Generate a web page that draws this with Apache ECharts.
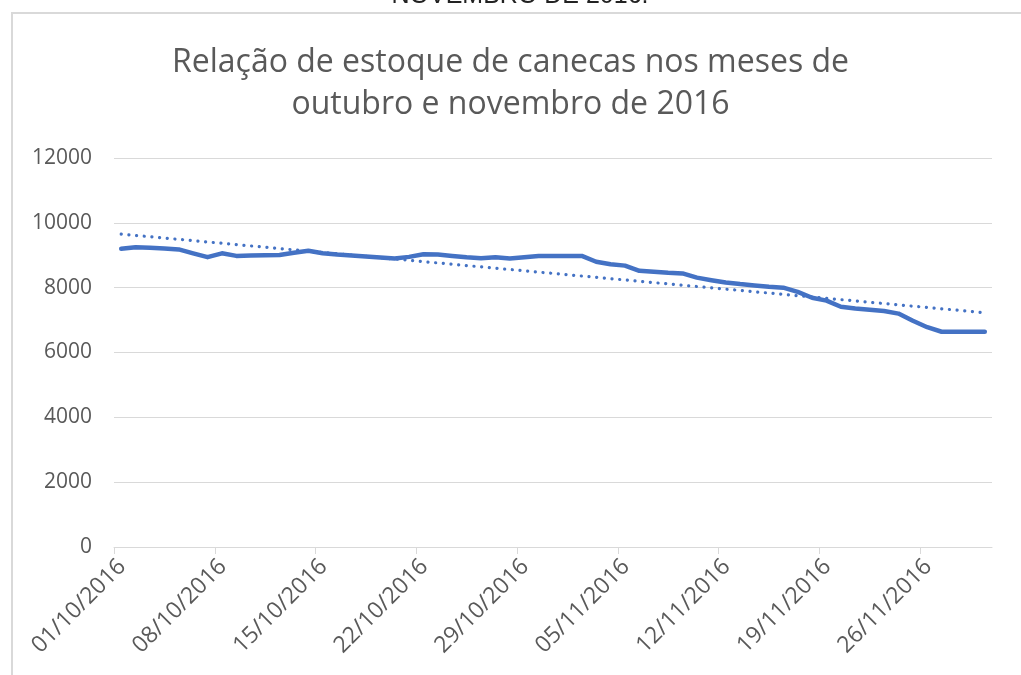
<!DOCTYPE html>
<html>
<head>
<meta charset="utf-8">
<script src="https://cdn.jsdelivr.net/npm/echarts@6/dist/echarts.min.js"></script>
<style>
  html, body { margin: 0; padding: 0; background: #fff; }
  #chart { width: 1021px; height: 675px; }
</style>
</head>
<body>
<div id="chart"></div>
<script>
// datas diarias (outubro e novembro 2016)
const dates = [
  '01/10/2016', '02/10/2016', '03/10/2016', '04/10/2016', '05/10/2016', '06/10/2016', '07/10/2016',
  '08/10/2016', '09/10/2016', '10/10/2016', '11/10/2016', '12/10/2016', '13/10/2016', '14/10/2016',
  '15/10/2016', '16/10/2016', '17/10/2016', '18/10/2016', '19/10/2016', '20/10/2016', '21/10/2016',
  '22/10/2016', '23/10/2016', '24/10/2016', '25/10/2016', '26/10/2016', '27/10/2016', '28/10/2016',
  '29/10/2016', '30/10/2016', '31/10/2016', '01/11/2016', '02/11/2016', '03/11/2016', '04/11/2016',
  '05/11/2016', '06/11/2016', '07/11/2016', '08/11/2016', '09/11/2016', '10/11/2016', '11/11/2016',
  '12/11/2016', '13/11/2016', '14/11/2016', '15/11/2016', '16/11/2016', '17/11/2016', '18/11/2016',
  '19/11/2016', '20/11/2016', '21/11/2016', '22/11/2016', '23/11/2016', '24/11/2016', '25/11/2016',
  '26/11/2016', '27/11/2016', '28/11/2016', '29/11/2016', '30/11/2016'
];

// estoque de canecas
const estoque = [
  9200, 9250, 9230, 9210, 9180, 9060, 8940,
  9060, 8980, 8990, 9000, 9010, 9080, 9140,
  9060, 9020, 8990, 8960, 8930, 8900, 8950,
  9030, 9020, 8980, 8940, 8910, 8940, 8900,
  8940, 8980, 8980, 8980, 8980, 8800, 8720,
  8680, 8520, 8490, 8460, 8440, 8310, 8230,
  8160, 8110, 8070, 8030, 8000, 7870, 7690,
  7600, 7410, 7360, 7320, 7280, 7200, 6980,
  6780, 6640, 6640, 6640, 6640
];

const yTicks = [0, 2000, 4000, 6000, 8000, 10000, 12000];

const tituloGrafico = 'Relação de estoque de canecas nos meses de\noutubro e novembro de 2016';
const legendaTopo = 'NOVEMBRO DE 2016.';

// cada dia ocupa uma faixa; o ponto fica no meio da faixa (como no Excel)
const lineData = estoque.map((v, i) => [i + 0.5, v]);

// linha de tendencia linear (minimos quadrados)
const n = lineData.length;
let sx = 0, sy = 0, sxy = 0, sxx = 0;
lineData.forEach(([x, y]) => { sx += x; sy += y; sxy += x * y; sxx += x * x; });
const slope = (n * sxy - sx * sy) / (n * sxx - sx * sx);
const intercept = (sy - slope * sx) / n;
const x0 = lineData[0][0], x1 = lineData[n - 1][0];
const trendData = [[x0, intercept + slope * x0], [x1, intercept + slope * x1]];

const labelTicks = dates.map((d, i) => i).filter(i => i % 7 === 0);

const chart = echarts.init(document.getElementById('chart'));
const option = {
  animation: false,
  backgroundColor: '#ffffff',
  title: {
    text: tituloGrafico,
    left: 'center',
    top: 37,
    textStyle: {
      fontFamily: 'Open Sans',
      fontSize: 32,
      fontWeight: 'normal',
      color: '#595959',
      lineHeight: 42
    }
  },
  graphic: [
    {
      type: 'rect',
      shape: { x: 12, y: 13, width: 1040, height: 700 },
      style: { fill: null, stroke: '#d9d9d9', lineWidth: 2 },
      silent: true
    },
    {
      type: 'text',
      x: 520,
      y: 9,
      style: {
        text: legendaTopo,
        fontFamily: 'Liberation Sans',
        fontSize: 25,
        fill: '#222',
        align: 'center',
        verticalAlign: 'bottom'
      }
    }
  ],
  grid: {
    left: 114,
    right: 29,
    top: 158,
    bottom: 128
  },
  xAxis: {
    type: 'value',
    min: 0,
    max: dates.length,
    interval: 7,
    splitLine: { show: false },
    axisLine: { show: true, lineStyle: { color: '#d9d9d9', width: 1 } },
    axisTick: {
      show: true,
      length: 7,
      customValues: labelTicks,
      lineStyle: { color: '#d9d9d9' }
    },
    axisLabel: {
      customValues: labelTicks,
      rotate: 45,
      margin: 8,
      verticalAlign: 'top',
      color: '#595959',
      fontFamily: 'Open Sans',
      fontSize: 23,
      formatter: v => dates[Math.round(v)] || ''
    }
  },
  yAxis: {
    type: 'value',
    min: yTicks[0],
    max: yTicks[yTicks.length - 1],
    interval: yTicks[1] - yTicks[0],
    axisLine: { show: false },
    axisTick: { show: false },
    splitLine: { lineStyle: { color: '#d9d9d9', width: 1 } },
    axisLabel: {
      margin: 22,
      color: '#595959',
      fontFamily: 'Open Sans',
      fontSize: 21,
      formatter: v => String(v)
    }
  },
  series: [
    {
      name: 'Estoque',
      type: 'line',
      data: lineData,
      showSymbol: false,
      lineStyle: { color: '#4472C4', width: 4.5, join: 'round', cap: 'round' },
      z: 3
    },
    {
      name: 'Tendência',
      type: 'line',
      data: trendData,
      showSymbol: false,
      lineStyle: { color: '#4472C4', width: 3.2, type: [0.1, 7.6], cap: 'round' },
      z: 2
    }
  ]
};
chart.setOption(option);
</script>
</body>
</html>
